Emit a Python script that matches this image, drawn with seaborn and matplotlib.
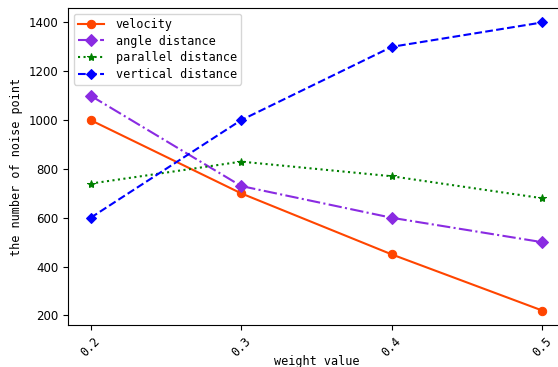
import matplotlib
matplotlib.use("Agg")
import matplotlib.pyplot as plt
import seaborn as sns

weights = [0.2, 0.3, 0.4, 0.5]
velocity = [1000, 700, 450, 220]
angle_distance = [1100, 730, 600, 500]
parallel_distance = [740, 830, 770, 680]
vertical_distance = [600, 1000, 1300, 1400]

series = [
    ("velocity", velocity, "#FF4500", "o", "-", 6),
    ("angle distance", angle_distance, "#8A2BE2", "D", "-.", 6),
    ("parallel distance", parallel_distance, "green", "*", ":", 6),
    ("vertical distance", vertical_distance, "blue", "D", "--", 5.5),
]

plt.rcParams['font.family'] = ['DejaVu Sans']
fig = plt.figure(figsize=(5.58, 3.67), dpi=100)
ax = fig.add_axes([68/558, 1-325/367, (565-68)/558, (325-8)/367])

for name, vals, color, marker, ls, ms in series:
    sns.lineplot(x=weights, y=vals, ax=ax, color=color, marker=marker,
                 linestyle=ls, markersize=ms, markeredgecolor=color,
                 label=name, linewidth=1.5)

ax.set_xticks(weights)
ax.set_xticklabels([str(w) for w in weights], rotation=45, fontsize=8.5,
                   family='DejaVu Sans Mono')
ax.tick_params(axis='y', labelsize=8.5)
ax.set_yticks([200, 400, 600, 800, 1000, 1200, 1400])
ax.set_xlabel("weight value", family='DejaVu Sans Mono', fontsize=8.5, labelpad=-3)
ax.set_ylabel("the number of noise point", family='DejaVu Sans Mono', fontsize=8.5)
leg = ax.legend(loc='upper left', prop={'family': 'DejaVu Sans Mono', 'size': 8.5},
                handlelength=2.2, handletextpad=1.0, borderpad=0.35, labelspacing=0.3)
fig.savefig("out.png", dpi=100)
